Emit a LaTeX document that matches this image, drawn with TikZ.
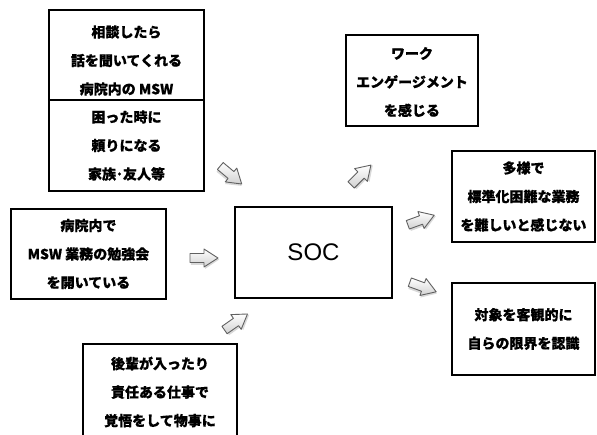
\documentclass[tikz,border=0pt]{standalone}
\usepackage{fontspec}
\newfontfamily\jp{Noto Sans CJK JP}[BoldFeatures={FakeBold=0.5}]
\newfontfamily\lat{Liberation Sans}
\usetikzlibrary{shadows}
\newcommand\blockarrow[3]{%
  \begin{scope}[shift={(#1,#2)}, rotate=#3]
    \fill[black, opacity=0.15] (-13.2,-4.2) -- (1.2,-4.2) -- (1.2,-8.2) -- (15.2,1.5) -- (1.2,10.8) -- (1.2,6.8) -- (-13.2,6.8) -- cycle;
    \path[arrowbody] (-14,-4.5) -- (0,-4.5) -- (0,-9) -- (14,0) -- (0,9) -- (0,4.5) -- (-14,4.5) -- cycle;
  \end{scope}}
\begin{document}
\begin{tikzpicture}[x=1pt,y=-1pt,
 box/.style={draw=black, line width=1.2pt, fill=white, inner sep=0pt, align=center,
   font=\jp\bfseries\fontsize{14}{28.5}\selectfont},
 txt/.style={inner sep=0pt, align=center, font=\jp\bfseries\fontsize{14}{28.5}\selectfont},
 arrowbody/.style={draw=black!62, line width=0.9pt, line join=round,
   top color=white, bottom color=black!18}]
\useasboundingbox (0,0) rectangle (597,434);
\clip (0,0) rectangle (597,434);
\fill[white] (0,0) rectangle (597,434);

% left-top double box
\node[box, minimum width=155pt, minimum height=90pt] (b1) at (126.5,55) {};
\node[txt] (b1t) at (126.5,60.5) {相談したら\\話を聞いてくれる\\病院内の MSW};
\node[box, minimum width=155pt, minimum height=91pt] (b2) at (126.5,145.5)
  {困った時に\\頼りになる\\家族･友人等};

% left middle
\node[box, minimum width=155pt, minimum height=90pt] (b6) at (88.5,254)
  {病院内で\\MSW 業務の勉強会\\を開いている};

% bottom
\node[box, minimum width=154pt, minimum height=96pt] (b7) at (160,392)
  {後輩が入ったり\\責任ある仕事で\\覚悟をして物事に};

% SOC
\node[box, minimum width=157pt, minimum height=91pt, font=\lat\fontsize{24}{28}\selectfont] (soc) at (313.5,252.5) {SOC};

% right boxes
\node[box, minimum width=132pt, minimum height=91pt] (b3) at (412,80.5) {};
\node[txt] (b3t) at (412,82) {ワーク\\エンゲージメント\\を感じる};
\node[box, minimum width=143pt, minimum height=91pt] (b4) at (523.5,196.5)
  {多様で\\標準化困難な業務\\を難しいと感じない};
\node[box, minimum width=143pt, minimum height=92pt] (b5) at (523.5,329)
  {対象を客観的に\\自らの限界を認識};

% block arrows
\blockarrow{231}{175}{-40}
\blockarrow{204}{258}{0}
\blockarrow{236}{322}{35}
\blockarrow{361}{175}{45}
\blockarrow{421}{220}{20}
\blockarrow{423}{287}{-20}
\end{tikzpicture}
\end{document}
